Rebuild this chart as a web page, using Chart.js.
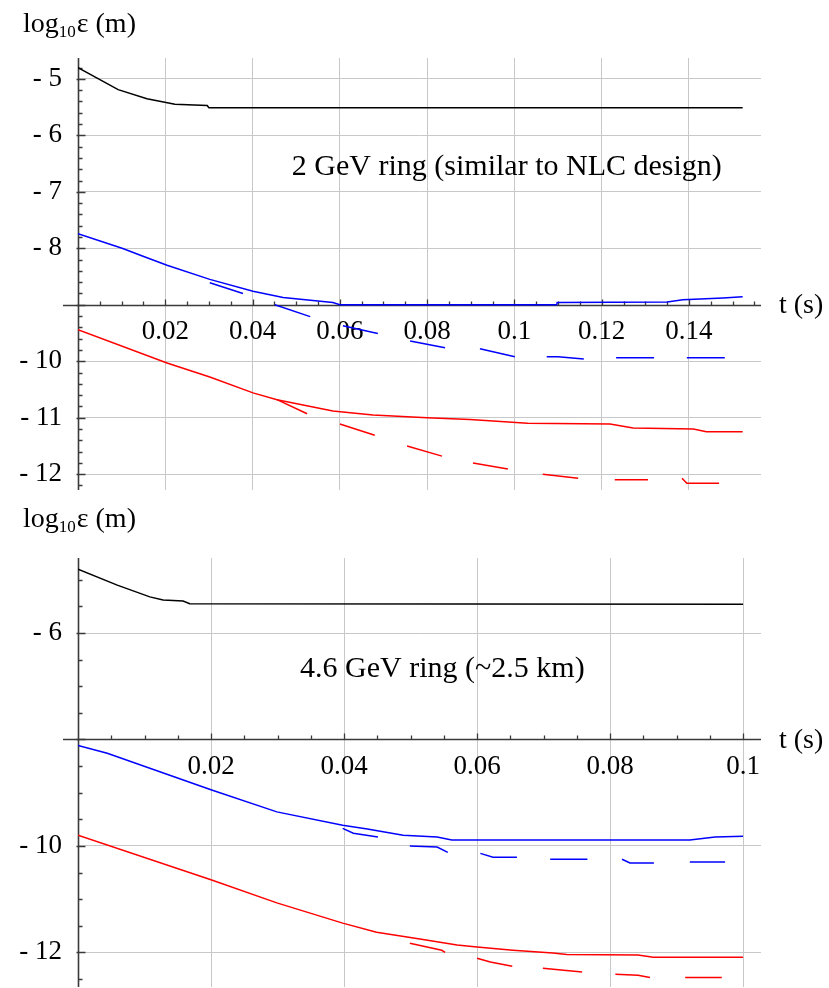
<!DOCTYPE html>
<html>
<head>
<meta charset="utf-8">
<title>log10 emittance vs time</title>
<script src="https://cdn.jsdelivr.net/npm/chart.js@4"></script>
<style>
  body { margin: 0; background: #fff; }
  .wrap { position: relative; width: 829px; height: 988px; overflow: hidden; }
  canvas { position: absolute; left: 0; }
  #topChart { top: 0; }
  #bottomChart { top: 495px; }
</style>
</head>
<body>
<div class="wrap">
  <canvas id="topChart" width="829" height="495"></canvas>
  <canvas id="bottomChart" width="829" height="493"></canvas>
</div>
<script>
// ---------- 2 GeV ring ----------
const topBlackT = [0, 0.0092, 0.0158, 0.0222, 0.0296, 0.0300, 0.1523];
const topBlackY = [-4.80, -5.19, -5.35, -5.45, -5.47, -5.51, -5.51];

const topBlueT = [0, 0.0101, 0.0149, 0.0204, 0.0302, 0.0401, 0.0470, 0.0584, 0.0600, 0.1097, 0.1098, 0.1350, 0.1386, 0.1478, 0.1523];
const topBlueY = [-7.74, -8.00, -8.14, -8.30, -8.55, -8.76, -8.87, -8.96, -9.00, -9.00, -8.96, -8.95, -8.91, -8.88, -8.86];

// short pieces under the blue curve
const topBlueDashT = [[0.0302, 0.0378], [0.0451, 0.0532], [0.0607, 0.0687], [0.0761, 0.0841], [0.0921, 0.1001], [0.1074, 0.1100, 0.1159], [0.1233, 0.1320], [0.1395, 0.1482]];
const topBlueDashY = [[-8.61, -8.80], [-9.00, -9.21], [-9.37, -9.51], [-9.64, -9.76], [-9.78, -9.92], [-9.92, -9.92, -9.96], [-9.94, -9.94], [-9.94, -9.94]];

const topRedT = [0, 0.0204, 0.0302, 0.0401, 0.0456, 0.0584, 0.0676, 0.0800, 0.0898, 0.1030, 0.1219, 0.1272, 0.1410, 0.1440, 0.1523];
const topRedY = [-9.44, -10.03, -10.28, -10.56, -10.68, -10.88, -10.95, -11.00, -11.03, -11.10, -11.11, -11.18, -11.20, -11.25, -11.25];

const topRedDashT = [[0.0456, 0.0525], [0.0600, 0.0680], [0.0754, 0.0834], [0.0905, 0.0985], [0.1065, 0.1146], [0.1230, 0.1306], [0.1384, 0.1395, 0.1469]];
const topRedDashY = [[-10.68, -10.93], [-11.11, -11.31], [-11.50, -11.68], [-11.80, -11.91], [-12.00, -12.07], [-12.10, -12.10], [-12.07, -12.16, -12.16]];

// ---------- 4.6 GeV ring ----------
const botBlackT = [0, 0.0059, 0.0108, 0.0128, 0.0158, 0.0168, 0.1000];
const botBlackY = [-4.80, -5.10, -5.32, -5.38, -5.40, -5.45, -5.46];

const botBlueT = [0, 0.0044, 0.0201, 0.0299, 0.0398, 0.0435, 0.0489, 0.0540, 0.0562, 0.0920, 0.0958, 0.1000];
const botBlueY = [-8.11, -8.26, -8.95, -9.36, -9.61, -9.68, -9.80, -9.83, -9.89, -9.89, -9.83, -9.82];

const botBlueDashT = [[0.0398, 0.0414, 0.0451], [0.0499, 0.0540, 0.0556], [0.0605, 0.0624, 0.0660], [0.0710, 0.0766], [0.0818, 0.0830, 0.0866], [0.0920, 0.0973]];
const botBlueDashY = [[-9.67, -9.76, -9.83], [-10.00, -10.02, -10.12], [-10.14, -10.21, -10.21], [-10.25, -10.25], [-10.25, -10.32, -10.32], [-10.30, -10.30]];

const botRedT = [0, 0.0201, 0.0299, 0.0398, 0.0449, 0.0514, 0.0570, 0.0600, 0.0654, 0.0714, 0.0735, 0.0842, 0.0865, 0.1000];
const botRedY = [-9.80, -10.64, -11.07, -11.45, -11.62, -11.75, -11.86, -11.90, -11.96, -12.01, -12.04, -12.05, -12.09, -12.09];

const botRedDashT = [[0.0499, 0.0547, 0.0552], [0.0600, 0.0620, 0.0653], [0.0699, 0.0758], [0.0808, 0.0842, 0.0860], [0.0913, 0.0968]];
const botRedDashY = [[-11.83, -11.96, -12.00], [-12.11, -12.18, -12.26], [-12.30, -12.37], [-12.41, -12.43, -12.47], [-12.47, -12.47]];

const SERIF = '"Liberation Serif", "Times New Roman", serif';
const AXIS_LEFT = 78;

function line(ts, ys, color) {
  return {
    data: ts.map((t, i) => ({ x: t, y: ys[i] })),
    borderColor: color,
    borderWidth: 1.5,
    pointRadius: 0,
    tension: 0,
    fill: false
  };
}

function pieces(tList, yList, color) {
  return tList.map((ts, k) => line(ts, yList[k], color));
}

// axes through the origin with Mathematica-like tick marks
const mathAxes = {
  id: 'mathAxes',
  beforeDatasetsDraw(chart, args, o) {
    const { ctx, chartArea: a, scales: { x, y } } = chart;
    const y0 = Math.round(y.getPixelForValue(o.crossY)) + 0.5;
    const x0 = Math.round(x.getPixelForValue(0)) + 0.5;
    ctx.save();
    ctx.strokeStyle = '#3a3a3a';
    ctx.lineWidth = 1.6;
    ctx.beginPath();
    ctx.moveTo(a.left - 15, y0); ctx.lineTo(a.right, y0);
    ctx.moveTo(x0, a.top); ctx.lineTo(x0, a.bottom);
    ctx.stroke();

    ctx.lineWidth = 1.3;
    ctx.beginPath();
    const nx = Math.floor(x.max / o.xMinor + 1e-6);
    const rx = Math.round(o.xMajor / o.xMinor);
    for (let i = 1; i <= nx; i++) {
      const px = Math.round(x.getPixelForValue(i * o.xMinor)) + 0.5;
      const len = i % rx === 0 ? 6 : 4;
      ctx.moveTo(px, y0); ctx.lineTo(px, y0 - len);
    }
    const k0 = Math.ceil(y.min / o.yMinor - 1e-6);
    const k1 = Math.floor(y.max / o.yMinor + 1e-6);
    for (let k = k0; k <= k1; k++) {
      const v = k * o.yMinor;
      const py = Math.round(y.getPixelForValue(v)) + 0.5;
      const major = Math.abs(v / o.yMajor - Math.round(v / o.yMajor)) < 1e-6;
      ctx.moveTo(major ? x0 - 2 : x0, py); ctx.lineTo(x0 + (major ? 7 : 4), py);
    }
    ctx.stroke();
    ctx.restore();
  },
  afterDraw(chart, args, o) {
    const { ctx, chartArea: a, scales: { x, y } } = chart;
    ctx.save();
    ctx.fillStyle = '#000';
    ctx.textBaseline = 'alphabetic';
    // log10 ε (m) with subscript
    let tx = 23;
    const ty = 32;
    ctx.font = '28px ' + SERIF;
    ctx.fillText('log', tx, ty);
    tx += ctx.measureText('log').width;
    ctx.font = '17px ' + SERIF;
    ctx.fillText('10', tx, ty + 5);
    tx += ctx.measureText('10').width + 1;
    ctx.font = '28px ' + SERIF;
    ctx.fillText('ε (m)', tx, ty);

    ctx.font = '30px ' + SERIF;
    ctx.fillText(o.note, x.getPixelForValue(o.noteAt[0]), y.getPixelForValue(o.noteAt[1]));

    ctx.font = '28px ' + SERIF;
    ctx.textBaseline = 'middle';
    ctx.fillText('t (s)', a.right + 18, y.getPixelForValue(o.crossY) + 1);
    ctx.restore();
  }
};

function makeChart(id, cfg) {
  const tickFont = { family: SERIF, size: 27 };
  return new Chart(document.getElementById(id), {
    type: 'line',
    data: { datasets: cfg.datasets },
    plugins: [mathAxes],
    options: {
      responsive: false,
      animation: false,
      events: [],
      layout: { padding: cfg.padding },
      plugins: {
        legend: { display: false },
        tooltip: { enabled: false },
        mathAxes: cfg.axes
      },
      scales: {
        x: {
          type: 'linear',
          min: 0,
          max: cfg.xMax,
          position: { y: cfg.axes.crossY },
          afterBuildTicks: s => { s.ticks = s.ticks.filter(t => t.value > 1e-9); },
          afterFit: s => { s.height = 0; s.paddingLeft = 0; s.paddingRight = 0; },
          ticks: {
            stepSize: cfg.axes.xMajor,
            includeBounds: false,
            autoSkip: false,
            maxRotation: 0,
            padding: 11,
            color: '#000',
            font: tickFont,
            callback: v => String(+v.toFixed(3))
          },
          grid: { color: '#c8c8c8', lineWidth: 1, drawTicks: false },
          border: { display: false }
        },
        y: {
          type: 'linear',
          min: cfg.yMin,
          max: cfg.yMax,
          afterBuildTicks: s => { s.ticks = s.ticks.filter(t => Math.abs(t.value - cfg.axes.crossY) > 1e-9); },
          // fixed width so the plot area starts at AXIS_LEFT
          afterFit: s => { s.width = AXIS_LEFT; s.paddingTop = 0; s.paddingBottom = 0; },
          ticks: {
            stepSize: cfg.axes.yMajor,
            includeBounds: false,
            autoSkip: false,
            padding: 16,
            color: '#000',
            font: tickFont,
            callback: v => (v < 0 ? '- ' + Math.abs(v) : String(v))
          },
          grid: { color: '#c8c8c8', lineWidth: 1, drawTicks: false },
          border: { display: false }
        }
      }
    }
  });
}

makeChart('topChart', {
  xMax: 0.1565,
  yMin: -12.28,
  yMax: -4.63,
  padding: { left: 0, right: 68, top: 58, bottom: 5 },
  axes: { crossY: -9, xMajor: 0.02, xMinor: 0.005, yMajor: 1, yMinor: 0.2,
          note: '2 GeV ring (similar to NLC design)', noteAt: [0.049, -6.71] },
  datasets: [
    line(topBlackT, topBlackY, '#000000'),
    line(topBlueT, topBlueY, '#0000ff'),
    ...pieces(topBlueDashT, topBlueDashY, '#0000ff'),
    line(topRedT, topRedY, '#ff0000'),
    ...pieces(topRedDashT, topRedDashY, '#ff0000')
  ]
});

makeChart('bottomChart', {
  xMax: 0.1027,
  yMin: -12.65,
  yMax: -4.59,
  padding: { left: 0, right: 68, top: 63, bottom: 1 },
  axes: { crossY: -8, xMajor: 0.02, xMinor: 0.005, yMajor: 2, yMinor: 0.5,
          note: '4.6 GeV ring (~2.5 km)', noteAt: [0.0334, -6.83] },
  datasets: [
    line(botBlackT, botBlackY, '#000000'),
    line(botBlueT, botBlueY, '#0000ff'),
    ...pieces(botBlueDashT, botBlueDashY, '#0000ff'),
    line(botRedT, botRedY, '#ff0000'),
    ...pieces(botRedDashT, botRedDashY, '#ff0000')
  ]
});
</script>
</body>
</html>
